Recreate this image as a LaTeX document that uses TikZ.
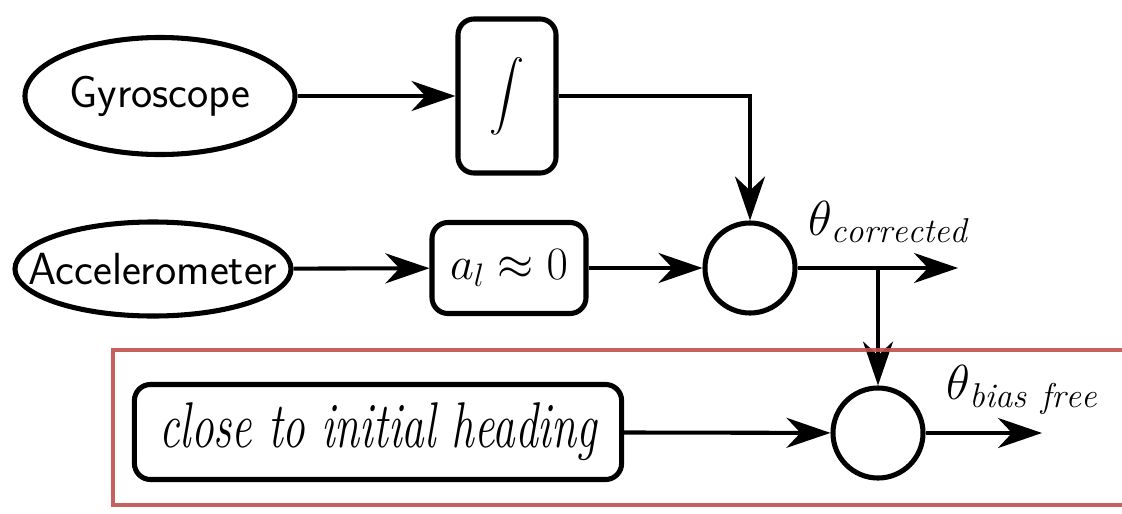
\RequirePackage{fix-cm}
\documentclass[tikz,border=0pt]{standalone}
\usepackage{exscale}
\usepackage{fontspec}
\usepackage{graphicx}
\usetikzlibrary{arrows.meta,shapes.geometric}
\definecolor{boxred}{RGB}{192,80,77}
\tikzset{
  border/.style={draw=black,line width=3.6pt,fill=white},
  ell/.style={border,ellipse,inner sep=0pt,font=\sffamily\fontsize{32}{36}\selectfont},
  rbox/.style={border,rectangle,rounded corners=0.4cm,inner sep=0pt},
  sumc/.style={border,circle,minimum size=2.25cm,inner sep=0pt},
  arr/.style={draw=black,line width=2.9pt,-{Stealth[length=1.1cm,width=0.75cm,inset=0.35cm]}},
  lab/.style={inner sep=0pt,font=\rmfamily\fontsize{35}{40}\selectfont}
}
\begin{document}
\begin{tikzpicture}[x=0.025cm,y=-0.025cm]
\path[use as bounding box] (0,0) rectangle (1122,513);
% nodes
\node[ell,minimum width=6.75cm,minimum height=2.925cm] (gyro) at (160,96) {\makebox[0pt]{Gyroscope}};
\node[rbox,minimum width=2.45cm,minimum height=3.85cm,font=\fontsize{38}{40}\selectfont] (int) at (507,96) {$\displaystyle\int$};
\node[ell,minimum width=6.9cm,minimum height=2.35cm] (acc) at (153,269) {\makebox[0pt]{Accelerometer}};
\node[rbox,minimum width=3.85cm,minimum height=2.275cm,font=\fontsize{33}{36}\selectfont] (al) at (509,268) {$a_l\approx 0$};
\node[sumc] (c1) at (750,268) {};
\node[sumc] (c2) at (878,433) {};
\node[rbox,minimum width=12.175cm,minimum height=2.375cm,font=\rmfamily\itshape\fontsize{46}{50}\selectfont] (head) at (378,432) {\scalebox{0.7}[1]{close to initial heading}};
\coordinate (out1) at (958,268);
\coordinate (br) at (878,268);
\coordinate (out2) at (1042,433);
\node[lab] (lab1) at (888,222) {$\theta_{\mathit{corrected}}$};
\node[lab] (lab2) at (1022,390) {$\theta_{\mathit{bias\ free}}$};
% connectors
\draw[arr] (gyro) -- (int);
\draw[arr] (int.east) -| (c1.north);
\draw[arr] (acc) -- (al);
\draw[arr] (al) -- (c1);
\draw[arr] (c1.east) -- (out1);
\draw[arr] (br) -- (c2.north);
\draw[arr] (head) -- (c2);
\draw[arr] (c2.east) -- (out2);
% red frame
\draw[boxred,line width=3.5pt,opacity=0.9] (113,350) rectangle (1140,505);
\end{tikzpicture}
\end{document}
